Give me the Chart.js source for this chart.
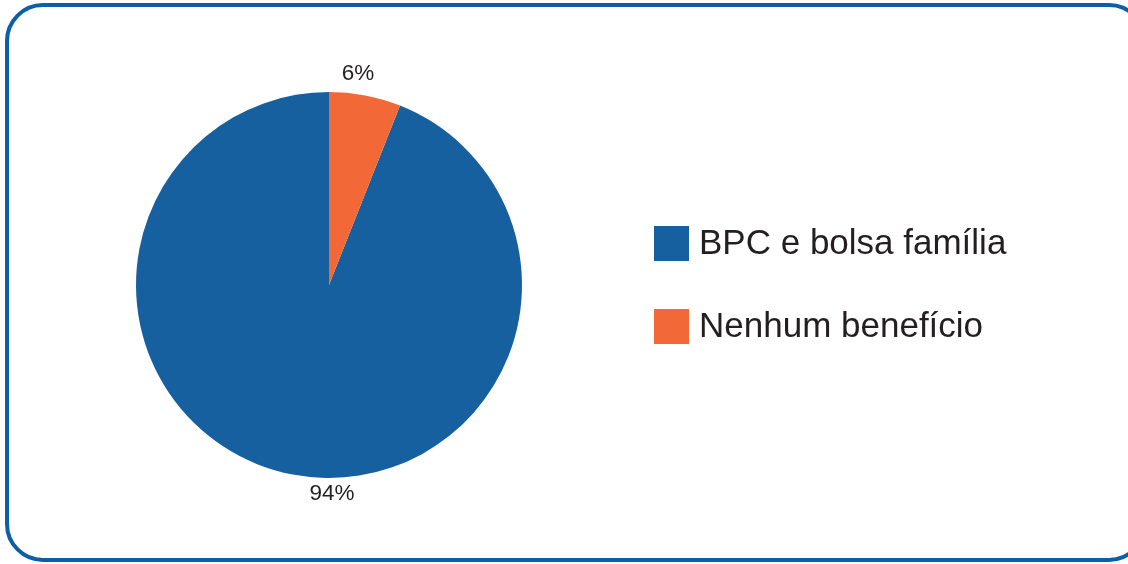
<!DOCTYPE html>
<html lang="pt">
<head>
    <meta charset="UTF-8">
    <title>Benefícios</title>
    <script src="https://cdn.jsdelivr.net/npm/chart.js"></script>
    <style>
        body {
            margin: 0;
            background: #ffffff;
            font-family: "Liberation Sans", Arial, sans-serif;
            overflow: hidden;
        }
        #frame {
            position: absolute;
            left: 5px;
            top: 3px;
            width: 1134px;
            height: 551px;
            border: 4px solid #0b5ea8;
            border-radius: 38px;
        }
        #wrap {
            position: absolute;
            left: 0;
            top: 0;
            width: 1128px;
            height: 564px;
        }
    </style>
</head>
<body>
    <div id="frame"></div>
    <div id="wrap"><canvas id="pieChart" width="1128" height="564"></canvas></div>
    <script>
        const categories = ["BPC e bolsa família", "Nenhum benefício"];
        const shares = [94, 6];
        const colors = ["#17609f", "#f26836"];

        // label offsets relative to pie centre / radius (pixel tweaks only)
        const pctLabelPlugin = {
            id: 'pctLabels',
            afterDatasetsDraw(chart, args, opts) {
                const ctx = chart.ctx;
                const arcs = chart.getDatasetMeta(0).data;
                ctx.save();
                ctx.font = '22.5px "Liberation Sans", Arial, sans-serif';
                ctx.fillStyle = '#231f20';
                ctx.textAlign = 'center';
                ctx.textBaseline = 'middle';
                arcs.forEach((arc, i) => {
                    const p = arc.getProps(['x', 'y', 'outerRadius'], true);
                    const o = opts.offsets[i];
                    const y = o.side === 'top' ? p.y - p.outerRadius - o.gap : p.y + p.outerRadius + o.gap;
                    ctx.fillText(shares[i] + '%', p.x + o.dx, y);
                });
                ctx.restore();
            }
        };

        const legendPlugin = {
            id: 'sideLegend',
            afterDraw(chart, args, opts) {
                const ctx = chart.ctx;
                ctx.save();
                ctx.font = '35px "Liberation Sans", Arial, sans-serif';
                ctx.textBaseline = 'middle';
                categories.forEach((c, i) => {
                    const y = opts.top + i * opts.step;
                    ctx.fillStyle = colors[i];
                    ctx.fillRect(opts.left, y, opts.box, opts.box);
                    ctx.fillStyle = '#231f20';
                    ctx.fillText(c, opts.left + opts.box + 10, y + opts.box / 2 + 1);
                });
                ctx.restore();
            }
        };

        const ctx = document.getElementById('pieChart').getContext('2d');
        new Chart(ctx, {
            type: 'pie',
            data: {
                labels: categories,
                datasets: [{
                    data: shares,
                    backgroundColor: colors,
                    borderWidth: 0
                }]
            },
            options: {
                responsive: false,
                animation: false,
                rotation: 360 * shares[1] / 100,
                layout: { padding: { left: 136, right: 606, top: 92, bottom: 86 } },
                plugins: {
                    legend: { display: false },
                    tooltip: { enabled: false },
                    pctLabels: { offsets: [{ side: 'bottom', dx: 3, gap: 16 }, { side: 'top', dx: 29, gap: 18 }] },
                    sideLegend: { left: 654, top: 226, step: 83, box: 35 }
                }
            },
            plugins: [pctLabelPlugin, legendPlugin]
        });
    </script>
</body>
</html>
